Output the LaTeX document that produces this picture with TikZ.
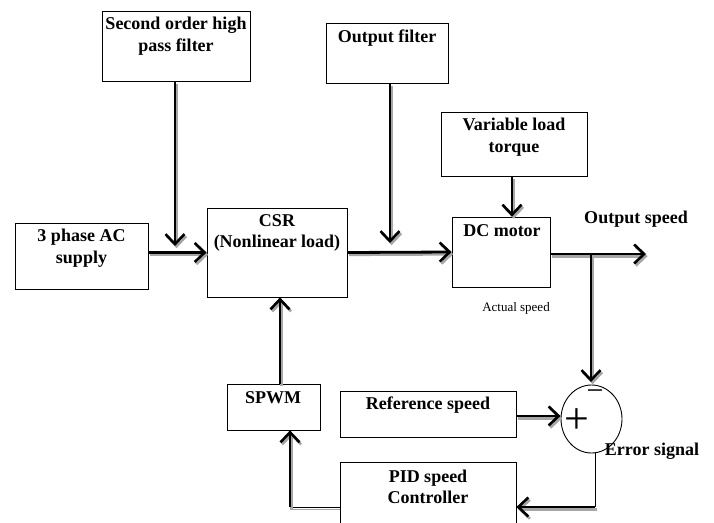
\documentclass[tikz,border=0pt]{standalone}
\usepackage{fontspec}
\setmainfont{Liberation Serif}
\usetikzlibrary{arrows.meta,shapes.geometric,calc}
\tikzset{
  box/.style={draw, line width=0.8pt, inner sep=0pt},
  lbl/.style={font=\fontsize{18}{21.5}\selectfont\bfseries, align=center, inner sep=0pt},
  tip/.style={-{Straight Barb[length=10pt,width=19pt,line width=2.6pt]}},
  arr/.style={line width=2.8pt, tip},
  arrsh/.style={line width=2.8pt, tip, draw=black!35},
  thin/.style={line width=0.9pt},
  thinsh/.style={line width=0.9pt, draw=black!35},
}
\newcommand\sharrow[2]{\draw[arrsh] ([shift={(1.6,2.2)}]#1) -- ([shift={(1.6,2.2)}]#2); \draw[arr] (#1) -- (#2);}
\begin{document}
\begin{tikzpicture}[x=1pt,y=-1pt]
\clip (0,0) rectangle (714,522);
\useasboundingbox (0,0) rectangle (714,522);
% boxes
\node[box, minimum width=148, minimum height=70] (hpf) at (176,46) {};
\node[box, minimum width=122, minimum height=60] (of) at (387,53) {};
\node[box, minimum width=146, minimum height=64] (vlt) at (514,144) {};
\node[box, minimum width=98, minimum height=70] (dcm) at (501,252) {};
\node[box, minimum width=140, minimum height=89] (csr) at (277,252.5) {};
\node[box, minimum width=133, minimum height=66] (ac) at (81.5,256) {};
\node[box, minimum width=93, minimum height=46] (spwm) at (273.5,407) {};
\node[box, minimum width=176, minimum height=46] (ref) at (428,414) {};
\node[box, minimum width=176, minimum height=90] (pid) at (428,507) {};
\node[draw, thin, ellipse, minimum width=61, minimum height=68, inner sep=0pt] (sum) at (591.5,419) {};
% labels
\node[lbl] (thpf) at (176,36) {Second order high\\pass filter};
\node[lbl] (tof) at (387,38) {Output filter};
\node[lbl] (tvlt) at (514,137) {Variable load\\torque};
\node[lbl] (tdcm) at (502,231) {DC motor};
\node[lbl] (tcsr) at (277,233) {CSR\\(Nonlinear load)};
\node[lbl] (tac) at (81.5,248) {3 phase AC\\supply};
\node[lbl] (tspwm) at (273,398) {SPWM};
\node[lbl] (tref) at (428,405) {Reference speed};
\node[lbl] (tpid) at (428,487) {PID speed\\Controller};
\node[lbl] (tout) at (636,219) {Output speed};
\node[lbl] (terr) at (652,451) {Error signal};
\node[font=\fontsize{13}{15}\selectfont, inner sep=0pt] (tact) at (516,308) {Actual speed};
\node[font=\fontsize{44}{44}\selectfont, inner sep=0pt] (plus) at (576.5,421) {+};
\node[font=\fontsize{30}{30}\selectfont, inner sep=0pt] (minus) at (595,395) {−};
% coordinates
\coordinate (hpfend) at (175,246);
\coordinate (ofend) at (390,243);
\coordinate (outend) at (646,254);
\coordinate (br) at (591,254);
\coordinate (brend) at (591,382);
\coordinate (sb) at (595,453);
\coordinate (sc) at (595,507);
\coordinate (pc) at (290,507);
\coordinate (rc) at (0,416);
\coordinate (vx) at (280,0);
\coordinate (vlx) at (512,0);
% connectors
\sharrow{hpf.south -| hpfend}{hpfend}
\sharrow{ac.east |- csr.west}{csr.west}
\sharrow{of.south -| ofend}{ofend}
\sharrow{csr.east}{dcm.west}
\sharrow{vlt.south -| vlx}{dcm.north -| vlx}
\sharrow{dcm.east |- outend}{outend}
\sharrow{br}{brend}
\sharrow{ref.east |- rc}{sum.west |- rc}
\draw[thin] (sb) -- (sc);
\sharrow{sc}{pid.east |- sc}
\draw[thinsh] ([yshift=-2.5pt]pid.west |- pc) -- ([yshift=-2.5pt]pc);
\draw[thin] (pid.west |- pc) -- (pc);
\sharrow{pc}{pc |- spwm.south}
\sharrow{spwm.north -| vx}{csr.south -| vx}
\end{tikzpicture}
\end{document}
